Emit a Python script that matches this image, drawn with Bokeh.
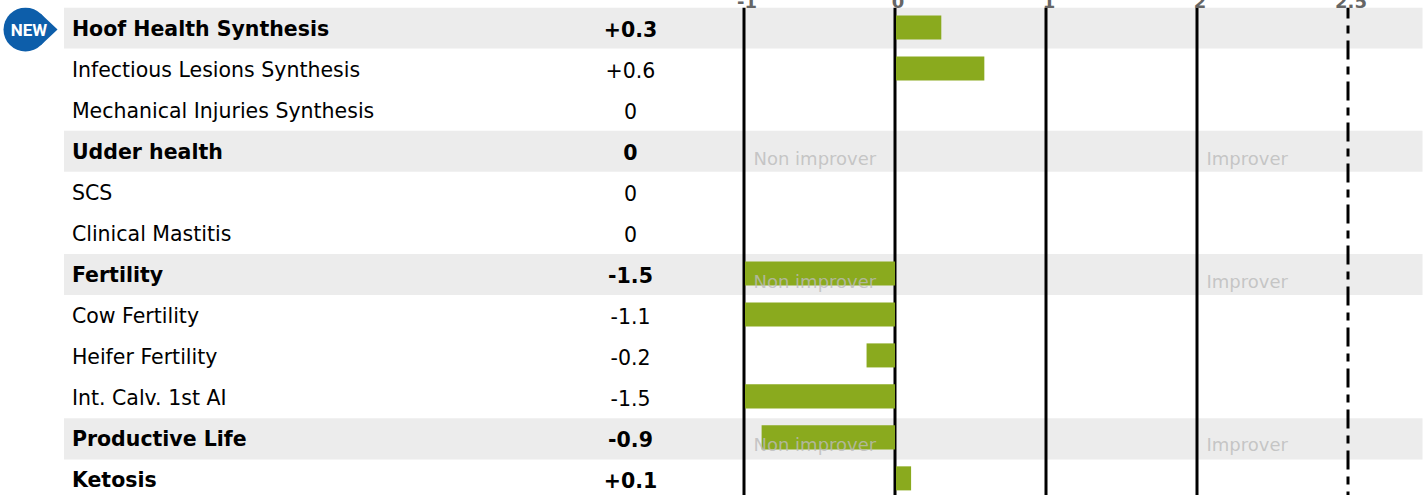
from bokeh.plotting import figure
from bokeh.models import ColumnDataSource, FixedTicker, LinearAxis, Range1d
from bokeh.core.properties import value
from bokeh.embed import file_html
from bokeh.resources import INLINE

labels = ["Hoof Health Synthesis", "Infectious Lesions Synthesis", "Mechanical Injuries Synthesis",
          "Udder health", "SCS", "Clinical Mastitis", "Fertility", "Cow Fertility", "Heifer Fertility",
          "Int. Calv. 1st AI", "Productive Life", "Ketosis"]
shown = ["+0.3", "+0.6", "0", "0", "0", "0", "-1.5", "-1.1", "-0.2", "-1.5", "-0.9", "+0.1"]
values = [0.3, 0.585, 0, 0, 0, 0, -1.5, -1.1, -0.195, -1.5, -0.89, 0.1]
bold = [True, False, False, True, False, False, True, False, False, False, True, True]
banded = [0, 3, 6, 10]
hints = [3, 6, 10]
# the scale is evenly spaced by position; the last position carries the label 2.5
solid_ticks = [-1, 0, 1, 2]
dashed_tick = 3
tick_labels = {-1: "-1", 0: "0", 1: "1", 2: "2", 3: "2.5"}

PX = 151.0          # px per unit
X0 = 895.5          # page x of zero
W, H = 1426, 495
TOP = 8             # page y of frame top
AX = 17             # height of the axis strip above the frame
ROW = 41.0          # band pitch
PITCH = 40.9        # pitch of bars and texts
LABEL_SHIFT = 3.0   # tick labels sit a little right of their lines
FRAME_NUDGE = 1.0
BAR_GAP = 1.0 / PX  # negative bars stop just short of the zero line's right half

def ux(px):
    return (px - X0) / PX

def uy(py):
    return (py - TOP) / ROW

p = figure(width=W, height=H - TOP + AX, output_backend="svg", toolbar_location=None,
           x_range=(ux(FRAME_NUDGE), ux(W + FRAME_NUDGE)), y_range=(uy(H), 0),
           min_border=0, min_border_top=0, min_border_left=0, min_border_right=0, min_border_bottom=0,
           x_axis_location=None, y_axis_location=None,
           margin=(TOP - AX, 0, 0, 0))
p.outline_line_color = None
p.grid.visible = False
p.background_fill_color = "#ffffff"
p.border_fill_color = "#ffffff"

p.extra_x_ranges["labels"] = Range1d(ux(FRAME_NUDGE - LABEL_SHIFT), ux(W + FRAME_NUDGE - LABEL_SHIFT))
p.extra_x_ranges["bars"] = Range1d(ux(0), ux(W))
ax = LinearAxis(x_range_name="labels", ticker=FixedTicker(ticks=solid_ticks + [dashed_tick]),
                major_label_overrides=tick_labels)
ax.axis_line_color = None
ax.major_tick_line_color = None
ax.minor_tick_line_color = None
ax.major_tick_in = 0
ax.major_tick_out = 0
ax.major_label_standoff = 0
ax.major_label_text_font = "DejaVu Sans"
ax.major_label_text_font_style = "bold"
ax.major_label_text_font_size = "18px"
ax.major_label_text_color = "#666666"
p.add_layout(ax, "above")

n = len(labels)
rows = list(range(n))
p.quad(left=ux(64.5), right=ux(1423), top=banded, bottom=[i + 1 for i in banded],
       fill_color="#ececec", line_color=None)

p.segment(x0=solid_ticks, x1=solid_ticks, y0=[0] * 4, y1=[uy(H)] * 4, line_color="#000000", line_width=3)
p.segment(x0=[dashed_tick], x1=[dashed_tick], y0=[0], y1=[uy(H)], line_color="#000000",
          line_width=3, line_dash="8 7 19 7", line_dash_offset=23)

clipped = [max(v, -1) for v in values]
nz = [i for i in rows if values[i] != 0]
src = ColumnDataSource(dict(y=[uy(28 + PITCH * i) for i in nz], l=[min(clipped[i], 0) for i in nz],
                            r=[max(clipped[i], 0) if clipped[i] > 0 else -BAR_GAP for i in nz]))
p.hbar(y="y", left="l", right="r", height=24 / ROW, source=src, fill_color="#8aaa1e", line_color=None,
       x_range_name="bars")

for flag, style in ((True, "bold"), (False, "normal")):
    idx = [i for i in rows if bold[i] == flag]
    s = ColumnDataSource(dict(y=[uy(29.7 + PITCH * i) for i in idx], lab=[labels[i] for i in idx],
                              val=[shown[i] for i in idx]))
    p.text(x=ux(72.4), y="y", text="lab", source=s, text_font=value("DejaVu Sans"), text_font_style=style,
           text_font_size="20.5px", text_color="#000000", text_baseline="middle", text_align="left")
    p.text(x=ux(631), y="y", text="val", source=s, text_font=value("DejaVu Sans"), text_font_style=style,
           text_font_size="20.5px", text_color="#000000", text_baseline="middle", text_align="center")

hy = [uy(36.6 + 40.8 * i) for i in hints]
p.text(x=ux(754), y=hy, text=["Non improver"] * len(hints), text_font=value("DejaVu Sans"), text_font_size="18px",
       text_color="#bbbbbb", text_alpha=0.8, text_baseline="middle", text_align="left")
p.text(x=ux(1207), y=hy, text=["Improver"] * len(hints), text_font=value("DejaVu Sans"), text_font_size="18px",
       text_color="#bbbbbb", text_alpha=0.8, text_baseline="middle", text_align="left")

# NEW badge: a disc with a pointed right side
p.scatter(x=[ux(26)], y=[uy(30)], size=44, marker="circle", fill_color="#0d5eaa", line_color=None)
p.patch(x=[ux(41), ux(58), ux(41)], y=[uy(14), uy(30), uy(46)], fill_color="#0d5eaa", line_color=None)
p.text(x=[ux(29.5)], y=[uy(30.5)], text=["NEW"], text_font=value("Roboto"), text_font_style="bold",
       text_font_size="17px", text_color="#ffffff", text_baseline="middle", text_align="center")

open("out.html", "w").write(file_html(p, INLINE))
